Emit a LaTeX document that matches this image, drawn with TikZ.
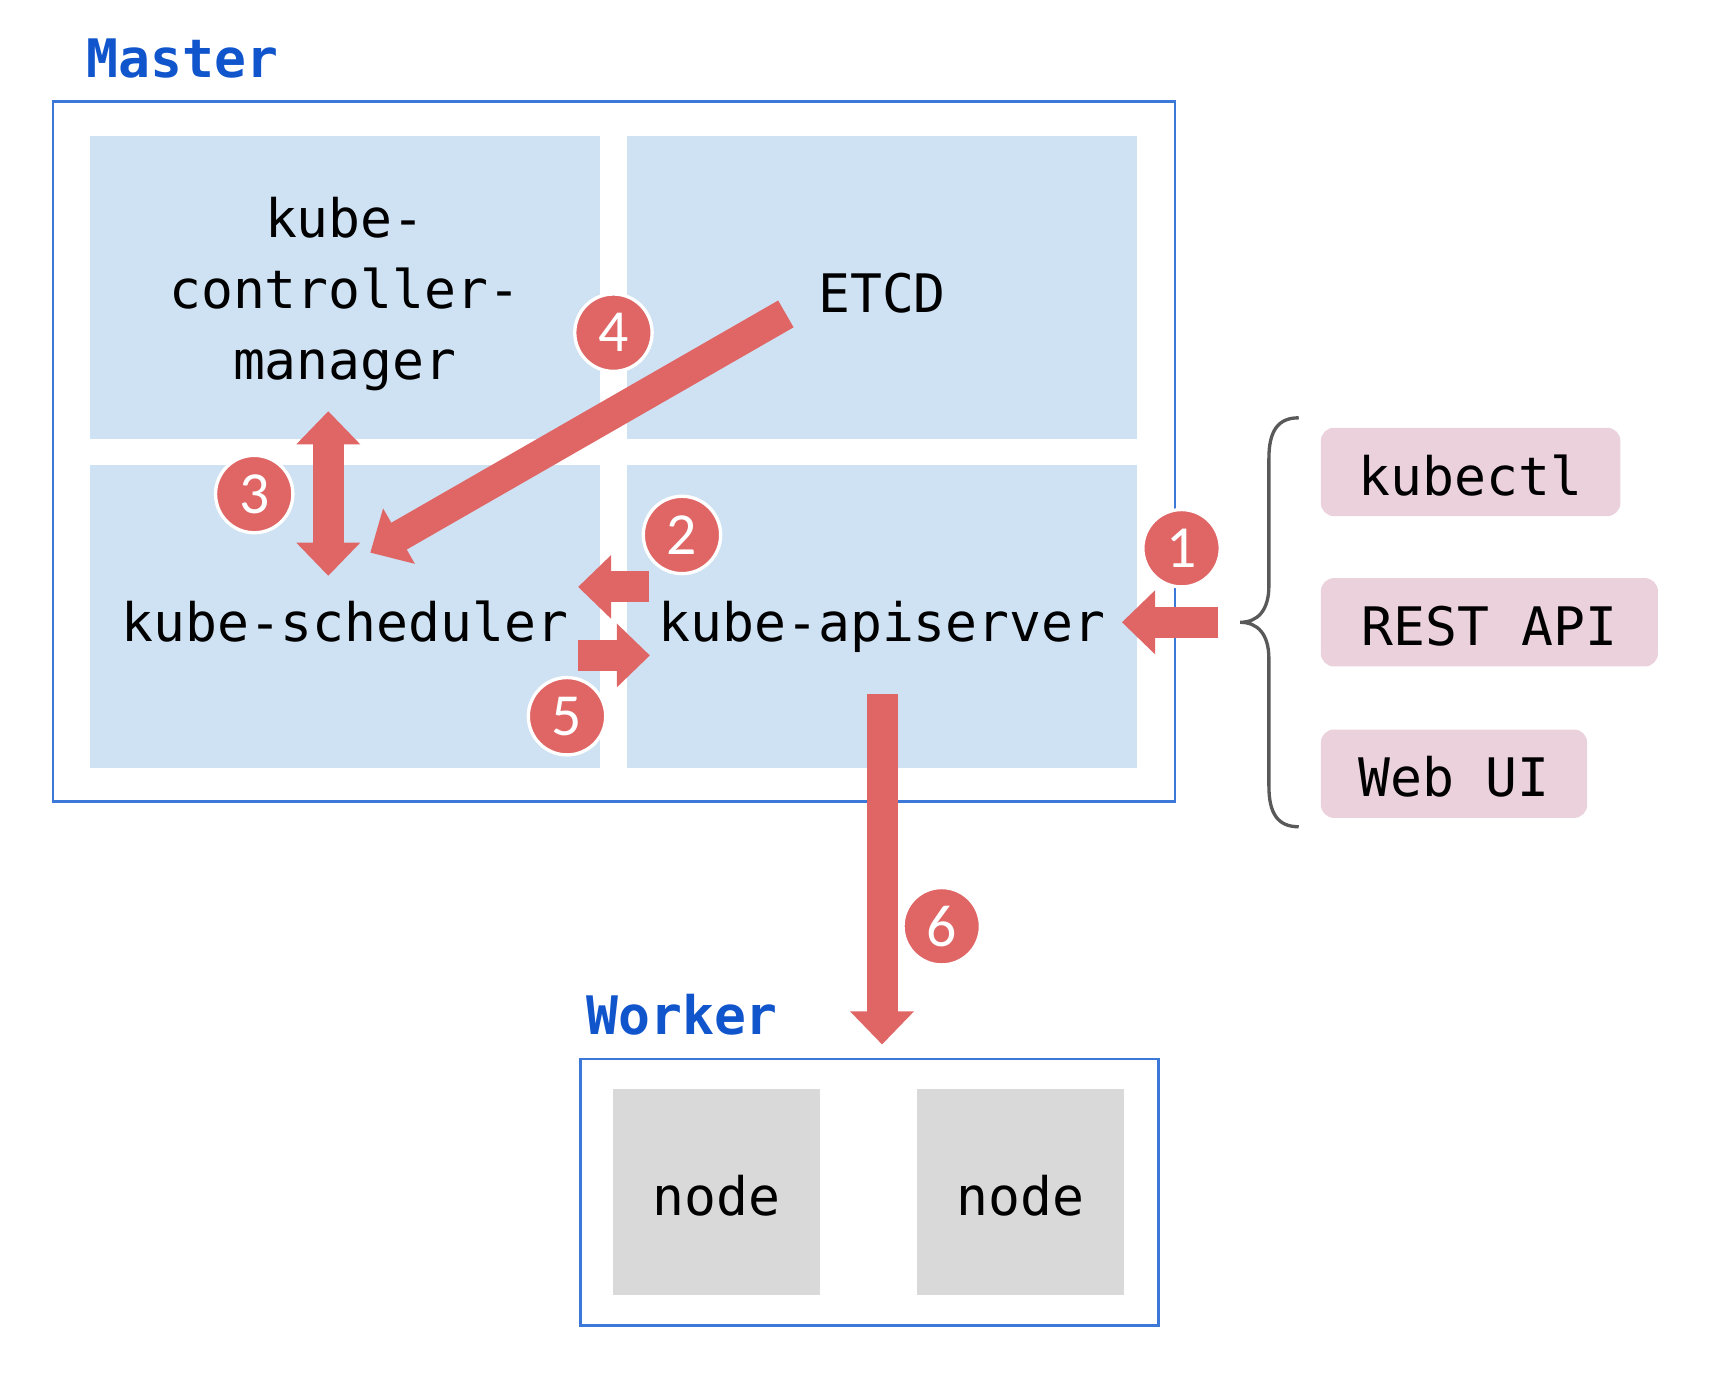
\documentclass[tikz,border=0pt]{standalone}
\usepackage{fontspec}
\setmonofont{DejaVu Sans Mono}
\newfontfamily\numfont{Carlito}
\usetikzlibrary{arrows.meta}
\definecolor{mblue}{HTML}{1155CC}
\definecolor{bord}{HTML}{3C78D8}
\definecolor{cellc}{HTML}{CFE2F3}
\definecolor{pinkc}{HTML}{EAD1DC}
\definecolor{grayc}{HTML}{D9D9D9}
\definecolor{redc}{HTML}{E06666}
\definecolor{bracec}{HTML}{595959}
\tikzset{
  txt/.style={font=\fontsize{24}{32}\selectfont\ttfamily, text=black},
  outerbox/.style={draw=bord, line width=1.2pt, fill=white, inner sep=0pt},
  cell/.style={fill=cellc, inner sep=0pt, minimum width=231pt, minimum height=137pt, txt, text height=22.5pt, text depth=0pt},
  pinkbox/.style={fill=pinkc, rounded corners=6pt, inner sep=0pt, minimum height=40pt, txt, text height=21pt, text depth=0pt},
  graybox/.style={fill=grayc, inner sep=0pt, minimum width=93.5pt, minimum height=93.5pt, txt, text height=21.5pt, text depth=0pt},
  title/.style={font=\fontsize{24}{28}\selectfont\ttfamily\bfseries, text=mblue, inner sep=0pt, anchor=base west},
  bigarrow/.style={draw=redc, line width=14pt, -{Triangle[length=15pt,width=28pt]}},
  dblarrow/.style={draw=redc, line width=14pt, {Triangle[length=15pt,width=28pt]}-{Triangle[length=15pt,width=28pt]}},
  numcirc/.style={circle, fill=redc, draw=white, line width=1.5pt, minimum size=35pt, inner sep=0pt, text=white, font=\fontsize{27}{30}\selectfont\numfont},
  bracestyle/.style={draw=bracec, line width=1.5pt}
}
\begin{document}
\begin{tikzpicture}[x=0.5pt,y=-0.5pt]
\useasboundingbox (0,0) rectangle (1567,1251.2);
% Master
\node[title] (mastertitle) at (78,70) {Master};
\node[outerbox, minimum width=507.5pt, minimum height=316.5pt] (master) at (555.5,408.5) {};
\node[cell] (ctrl) at (312,260) {};
\node[txt, align=center, inner sep=0pt] (ctrltext) at (312,266) {kube-\\controller-\\manager};
\node[cell] (etcd) at (798,260) {ETCD};
\node[cell] (sched) at (312,557.5) {kube-scheduler};
\node[cell] (api) at (798,557.5) {kube-apiserver};
% clients
\node[pinkbox, minimum width=135.5pt] (kubectl) at (1330.5,427) {kubectl};
\node[pinkbox, minimum width=152.5pt] (rest) at (1347.5,563) {REST API};
\node[pinkbox, minimum width=120.5pt] (webui) at (1315.5,700) {Web UI};
\coordinate (bracetip) at (1122,563);
\draw[bracestyle] (1175,378) .. controls (1156,378) and (1148,390) .. (1148,415)
  -- (1148,530) .. controls (1148,552) and (1138,563) .. (bracetip)
  .. controls (1138,563) and (1148,574) .. (1148,596)
  -- (1148,711) .. controls (1148,736) and (1156,748) .. (1175,748);
% Worker
\node[title] (workertitle) at (530,936) {Worker};
\node[outerbox, minimum width=261.5pt, minimum height=120.5pt] (worker) at (786.5,1078.5) {};
\node[graybox] (node1) at (648.5,1078.5) {node};
\node[graybox] (node2) at (923.5,1078.5) {node};
% arrow endpoints
\coordinate (a1s) at (1102,563);
\coordinate (a1e) at (1015,563);
\coordinate (a2s) at (587,531);
\coordinate (a2e) at (523,531);
\coordinate (a3s) at (297,372);
\coordinate (a3e) at (297,521);
\coordinate (a4s) at (711,284);
\coordinate (a4e) at (335,500);
\coordinate (a5s) at (523,593);
\coordinate (a5e) at (588,593);
\coordinate (a6s) at (798,628);
\coordinate (a6e) at (798,945);
\draw[bigarrow] (a1s) -- (a1e);
\draw[bigarrow] (a2s) -- (a2e);
\draw[dblarrow] (a3s) -- (a3e);
\draw[bigarrow] (a4s) -- (a4e);
\draw[bigarrow] (a5s) -- (a5e);
\draw[bigarrow] (a6s) -- (a6e);
% numbers
\node[numcirc] (n1) at (1069,496) {1};
\node[numcirc] (n2) at (617,484) {2};
\node[numcirc] (n3) at (230,447) {3};
\node[numcirc] (n4) at (555,301) {4};
\node[numcirc] (n5) at (513,648) {5};
\node[numcirc] (n6) at (852,838) {6};
\end{tikzpicture}
\end{document}
